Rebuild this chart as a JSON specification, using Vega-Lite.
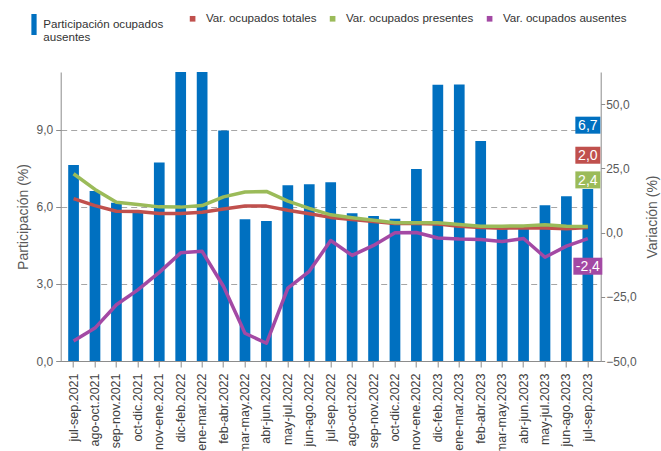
{
  "$schema": "https://vega.github.io/schema/vega-lite/v6.json",
  "autosize": {"type": "none"},
  "padding": {"left": 60.7, "top": 72, "right": 60.3, "bottom": 90},
  "width": 540,
  "height": 289,
  "config": {
    "font": "Liberation Sans",
    "view": {"stroke": null},
    "axis": {"labelFont": "Liberation Sans", "titleFont": "Liberation Sans", "titleFontWeight": "normal"},
    "legend": {"labelFont": "Liberation Sans", "padding": 0}
  },
  "datasets": {
    "bars": [
      {"periodo": "jul-sep.2021", "participacion": 7.63},
      {"periodo": "ago-oct.2021", "participacion": 6.62},
      {"periodo": "sep-nov.2021", "participacion": 6.16},
      {"periodo": "oct-dic.2021", "participacion": 5.81},
      {"periodo": "nov-ene.2021", "participacion": 7.73},
      {"periodo": "dic-feb.2022", "participacion": 11.4},
      {"periodo": "ene-mar.2022", "participacion": 11.4},
      {"periodo": "feb-abr.2022", "participacion": 8.97},
      {"periodo": "mar-may.2022", "participacion": 5.52},
      {"periodo": "abr-jun.2022", "participacion": 5.45},
      {"periodo": "may-jul.2022", "participacion": 6.84},
      {"periodo": "jun-ago.2022", "participacion": 6.88},
      {"periodo": "jul-sep.2022", "participacion": 6.96},
      {"periodo": "ago-oct.2022", "participacion": 5.75},
      {"periodo": "sep-nov.2022", "participacion": 5.64},
      {"periodo": "oct-dic.2022", "participacion": 5.54},
      {"periodo": "nov-ene.2022", "participacion": 7.47},
      {"periodo": "dic-feb.2023", "participacion": 10.75},
      {"periodo": "ene-mar.2023", "participacion": 10.76},
      {"periodo": "feb-abr.2023", "participacion": 8.56},
      {"periodo": "mar-may.2023", "participacion": 5.2},
      {"periodo": "abr-jun.2023", "participacion": 5.18},
      {"periodo": "may-jul.2023", "participacion": 6.06},
      {"periodo": "jun-ago.2023", "participacion": 6.41},
      {"periodo": "jul-sep.2023", "participacion": 6.7}
    ],
    "lines": [
      {"periodo": "jul-sep.2021", "serie": "Var. ocupados totales", "valor": 13.2},
      {"periodo": "ago-oct.2021", "serie": "Var. ocupados totales", "valor": 10.5},
      {"periodo": "sep-nov.2021", "serie": "Var. ocupados totales", "valor": 8.3},
      {"periodo": "oct-dic.2021", "serie": "Var. ocupados totales", "valor": 8.2},
      {"periodo": "nov-ene.2021", "serie": "Var. ocupados totales", "valor": 7.4},
      {"periodo": "dic-feb.2022", "serie": "Var. ocupados totales", "valor": 7.4},
      {"periodo": "ene-mar.2022", "serie": "Var. ocupados totales", "valor": 7.9},
      {"periodo": "feb-abr.2022", "serie": "Var. ocupados totales", "valor": 9.2},
      {"periodo": "mar-may.2022", "serie": "Var. ocupados totales", "valor": 10.3},
      {"periodo": "abr-jun.2022", "serie": "Var. ocupados totales", "valor": 10.3},
      {"periodo": "may-jul.2022", "serie": "Var. ocupados totales", "valor": 8.7},
      {"periodo": "jun-ago.2022", "serie": "Var. ocupados totales", "valor": 7.3},
      {"periodo": "jul-sep.2022", "serie": "Var. ocupados totales", "valor": 5.9},
      {"periodo": "ago-oct.2022", "serie": "Var. ocupados totales", "valor": 5.1},
      {"periodo": "sep-nov.2022", "serie": "Var. ocupados totales", "valor": 4.3},
      {"periodo": "oct-dic.2022", "serie": "Var. ocupados totales", "valor": 3.5},
      {"periodo": "nov-ene.2022", "serie": "Var. ocupados totales", "valor": 3.5},
      {"periodo": "dic-feb.2023", "serie": "Var. ocupados totales", "valor": 3.3},
      {"periodo": "ene-mar.2023", "serie": "Var. ocupados totales", "valor": 2.5},
      {"periodo": "feb-abr.2023", "serie": "Var. ocupados totales", "valor": 2.0},
      {"periodo": "mar-may.2023", "serie": "Var. ocupados totales", "valor": 1.7},
      {"periodo": "abr-jun.2023", "serie": "Var. ocupados totales", "valor": 1.8},
      {"periodo": "may-jul.2023", "serie": "Var. ocupados totales", "valor": 1.8},
      {"periodo": "jun-ago.2023", "serie": "Var. ocupados totales", "valor": 1.5},
      {"periodo": "jul-sep.2023", "serie": "Var. ocupados totales", "valor": 2.0},
      {"periodo": "jul-sep.2021", "serie": "Var. ocupados presentes", "valor": 22.9},
      {"periodo": "ago-oct.2021", "serie": "Var. ocupados presentes", "valor": 16.8},
      {"periodo": "sep-nov.2021", "serie": "Var. ocupados presentes", "valor": 11.8},
      {"periodo": "oct-dic.2021", "serie": "Var. ocupados presentes", "valor": 10.9},
      {"periodo": "nov-ene.2021", "serie": "Var. ocupados presentes", "valor": 10.0},
      {"periodo": "dic-feb.2022", "serie": "Var. ocupados presentes", "valor": 9.9},
      {"periodo": "ene-mar.2022", "serie": "Var. ocupados presentes", "valor": 10.5},
      {"periodo": "feb-abr.2022", "serie": "Var. ocupados presentes", "valor": 13.9},
      {"periodo": "mar-may.2022", "serie": "Var. ocupados presentes", "valor": 15.8},
      {"periodo": "abr-jun.2022", "serie": "Var. ocupados presentes", "valor": 16.0},
      {"periodo": "may-jul.2022", "serie": "Var. ocupados presentes", "valor": 12.2},
      {"periodo": "jun-ago.2022", "serie": "Var. ocupados presentes", "valor": 9.4},
      {"periodo": "jul-sep.2022", "serie": "Var. ocupados presentes", "valor": 6.9},
      {"periodo": "ago-oct.2022", "serie": "Var. ocupados presentes", "valor": 5.8},
      {"periodo": "sep-nov.2022", "serie": "Var. ocupados presentes", "valor": 4.8},
      {"periodo": "oct-dic.2022", "serie": "Var. ocupados presentes", "valor": 3.8},
      {"periodo": "nov-ene.2022", "serie": "Var. ocupados presentes", "valor": 3.8},
      {"periodo": "dic-feb.2023", "serie": "Var. ocupados presentes", "valor": 3.8},
      {"periodo": "ene-mar.2023", "serie": "Var. ocupados presentes", "valor": 3.1},
      {"periodo": "feb-abr.2023", "serie": "Var. ocupados presentes", "valor": 2.5},
      {"periodo": "mar-may.2023", "serie": "Var. ocupados presentes", "valor": 2.5},
      {"periodo": "abr-jun.2023", "serie": "Var. ocupados presentes", "valor": 2.6},
      {"periodo": "may-jul.2023", "serie": "Var. ocupados presentes", "valor": 3.0},
      {"periodo": "jun-ago.2023", "serie": "Var. ocupados presentes", "valor": 2.5},
      {"periodo": "jul-sep.2023", "serie": "Var. ocupados presentes", "valor": 2.4},
      {"periodo": "jul-sep.2021", "serie": "Var. ocupados ausentes", "valor": -42.2},
      {"periodo": "ago-oct.2021", "serie": "Var. ocupados ausentes", "valor": -37.2},
      {"periodo": "sep-nov.2021", "serie": "Var. ocupados ausentes", "valor": -28.1},
      {"periodo": "oct-dic.2021", "serie": "Var. ocupados ausentes", "valor": -22.3},
      {"periodo": "nov-ene.2021", "serie": "Var. ocupados ausentes", "valor": -15.5},
      {"periodo": "dic-feb.2022", "serie": "Var. ocupados ausentes", "valor": -7.9},
      {"periodo": "ene-mar.2022", "serie": "Var. ocupados ausentes", "valor": -7.3},
      {"periodo": "feb-abr.2022", "serie": "Var. ocupados ausentes", "valor": -21.0},
      {"periodo": "mar-may.2022", "serie": "Var. ocupados ausentes", "valor": -39.2},
      {"periodo": "abr-jun.2022", "serie": "Var. ocupados ausentes", "valor": -43.1},
      {"periodo": "may-jul.2022", "serie": "Var. ocupados ausentes", "valor": -21.6},
      {"periodo": "jun-ago.2022", "serie": "Var. ocupados ausentes", "valor": -15.1},
      {"periodo": "jul-sep.2022", "serie": "Var. ocupados ausentes", "valor": -3.1},
      {"periodo": "ago-oct.2022", "serie": "Var. ocupados ausentes", "valor": -8.9},
      {"periodo": "sep-nov.2022", "serie": "Var. ocupados ausentes", "valor": -5.0},
      {"periodo": "oct-dic.2022", "serie": "Var. ocupados ausentes", "valor": -0.1},
      {"periodo": "nov-ene.2022", "serie": "Var. ocupados ausentes", "valor": 0.0},
      {"periodo": "dic-feb.2023", "serie": "Var. ocupados ausentes", "valor": -2.1},
      {"periodo": "ene-mar.2023", "serie": "Var. ocupados ausentes", "valor": -2.5},
      {"periodo": "feb-abr.2023", "serie": "Var. ocupados ausentes", "valor": -2.7},
      {"periodo": "mar-may.2023", "serie": "Var. ocupados ausentes", "valor": -3.5},
      {"periodo": "abr-jun.2023", "serie": "Var. ocupados ausentes", "valor": -2.3},
      {"periodo": "may-jul.2023", "serie": "Var. ocupados ausentes", "valor": -9.6},
      {"periodo": "jun-ago.2023", "serie": "Var. ocupados ausentes", "valor": -5.3},
      {"periodo": "jul-sep.2023", "serie": "Var. ocupados ausentes", "valor": -2.4}
    ],
    "labels": [
      {"periodo": "jul-sep.2023", "serie": "Participación ocupados ausentes", "pos": 41.8, "label": "6,7"},
      {"periodo": "jul-sep.2023", "serie": "Var. ocupados totales", "pos": 30.1, "label": "2,0"},
      {"periodo": "jul-sep.2023", "serie": "Var. ocupados presentes", "pos": 20.5, "label": "2,4"},
      {"periodo": "jul-sep.2023", "serie": "Var. ocupados ausentes", "pos": -13.1, "label": "-2,4"}
    ]
  },
  "encoding": {
    "x": {
      "field": "periodo",
      "type": "nominal",
      "scale": {
        "domain": ["jul-sep.2021", "ago-oct.2021", "sep-nov.2021", "oct-dic.2021", "nov-ene.2021", "dic-feb.2022", "ene-mar.2022", "feb-abr.2022", "mar-may.2022", "abr-jun.2022", "may-jul.2022", "jun-ago.2022", "jul-sep.2022", "ago-oct.2022", "sep-nov.2022", "oct-dic.2022", "nov-ene.2022", "dic-feb.2023", "ene-mar.2023", "feb-abr.2023", "mar-may.2023", "abr-jun.2023", "may-jul.2023", "jun-ago.2023", "jul-sep.2023"],
        "paddingInner": 0.5,
        "paddingOuter": 0.35
      },
      "axis": {
        "title": null,
        "labelAngle": -90,
        "labelAlign": "right",
        "labelBaseline": "middle",
        "labelPadding": 6,
        "tickSize": 6,
        "labelFontSize": 12.5,
        "labelColor": "#404040",
        "domainColor": "#8c8c8c",
        "tickColor": "#8c8c8c",
        "labelOverlap": false
      }
    }
  },
  "layer": [
    {
      "data": {"name": "bars"},
      "mark": {"type": "bar", "clip": true},
      "encoding": {
        "y": {
          "field": "participacion",
          "type": "quantitative",
          "scale": {"domain": [0, 11.25], "nice": false, "zero": true},
          "axis": {
            "orient": "left",
            "values": [0, 3, 6, 9],
            "labelExpr": "replace(format(datum.value, '.1f'), '.', ',')",
            "title": "Participación (%)",
            "titleFontSize": 14,
            "titleColor": "#595959",
            "titlePadding": 6,
            "labelFontSize": 12,
            "labelColor": "#595959",
            "labelPadding": 3,
            "tickSize": 5,
            "tickColor": "#8c8c8c",
            "domainColor": "#8c8c8c",
            "grid": true,
            "gridDash": [6, 4],
            "gridColor": "#a6a6a6",
            "gridWidth": 1
          }
        },
        "color": {
          "datum": "Participación ocupados ausentes",
          "type": "nominal",
          "scale": {"domain": ["Participación ocupados ausentes"], "range": ["#0070C0"]},
          "legend": {
            "title": null,
            "orient": "none",
            "legendX": -37.2,
            "legendY": -58,
            "symbolType": "M-0.25,-1H0.25V1H-0.25Z",
            "symbolSize": 441,
            "symbolStrokeWidth": 0,
            "labelOffset": -1.2,
            "labelFontSize": 11.6,
            "labelColor": "#333333",
            "labelExpr": "datum.label == 'Participación ocupados ausentes' ? ['Participación ocupados', ' ausentes'] : datum.label"
          }
        }
      }
    },
    {
      "data": {"name": "lines"},
      "mark": {"type": "line", "strokeWidth": 3.5, "strokeJoin": "round"},
      "encoding": {
        "y": {
          "field": "valor",
          "type": "quantitative",
          "scale": {"domain": [-50, 62.5], "nice": false, "zero": false},
          "axis": {
            "orient": "right",
            "values": [-50, -25, 0, 25, 50],
            "labelExpr": "replace(format(datum.value, '.1f'), '.', ',')",
            "title": "Variación (%)",
            "titleAngle": 270,
            "titleFontSize": 14,
            "titleColor": "#595959",
            "titlePadding": 23,
            "labelFontSize": 12,
            "labelColor": "#595959",
            "labelPadding": 1,
            "tickSize": 4,
            "tickColor": "#8c8c8c",
            "domainColor": "#8c8c8c",
            "grid": false
          }
        },
        "stroke": {
          "field": "serie",
          "type": "nominal",
          "sort": null,
          "scale": {
            "domain": ["Var. ocupados totales", "Var. ocupados presentes", "Var. ocupados ausentes"],
            "range": ["#C0504D", "#9BBB59", "#A349A4"]
          },
          "legend": {
            "title": null,
            "orient": "none",
            "direction": "horizontal",
            "legendX": 126.1,
            "legendY": -59.3,
            "symbolType": "square",
            "symbolSize": 6,
            "symbolStrokeWidth": 3.2,
            "labelOffset": 7.5,
            "columnPadding": 8,
            "labelFontSize": 11.6,
            "labelColor": "#333333"
          }
        }
      }
    },
    {
      "data": {"name": "labels"},
      "mark": {"type": "point", "filled": true, "opacity": 1, "strokeWidth": 0},
      "encoding": {
        "y": {"field": "pos", "type": "quantitative", "scale": {"domain": [-50, 62.5], "nice": false, "zero": false}, "axis": null},
        "fill": {
          "field": "serie",
          "type": "nominal",
          "scale": {
            "domain": ["Participación ocupados ausentes", "Var. ocupados totales", "Var. ocupados presentes", "Var. ocupados ausentes"],
            "range": ["#0070C0", "#C0504D", "#9BBB59", "#A349A4"]
          },
          "legend": null
        },
        "shape": {
          "condition": {"test": "datum.label == '-2,4'", "value": "M-1.16,-0.68H1.16V0.68H-1.16Z"},
          "value": "M-1,-0.68H1V0.68H-1Z"
        },
        "size": {"value": 625}
      }
    },
    {
      "data": {"name": "labels"},
      "mark": {"type": "text", "color": "white", "fontSize": 14, "align": "center", "baseline": "middle", "dy": 1},
      "encoding": {
        "y": {"field": "pos", "type": "quantitative", "scale": {"domain": [-50, 62.5], "nice": false, "zero": false}, "axis": null},
        "text": {"field": "label"}
      }
    }
  ],
  "resolve": {"scale": {"y": "independent"}}
}
